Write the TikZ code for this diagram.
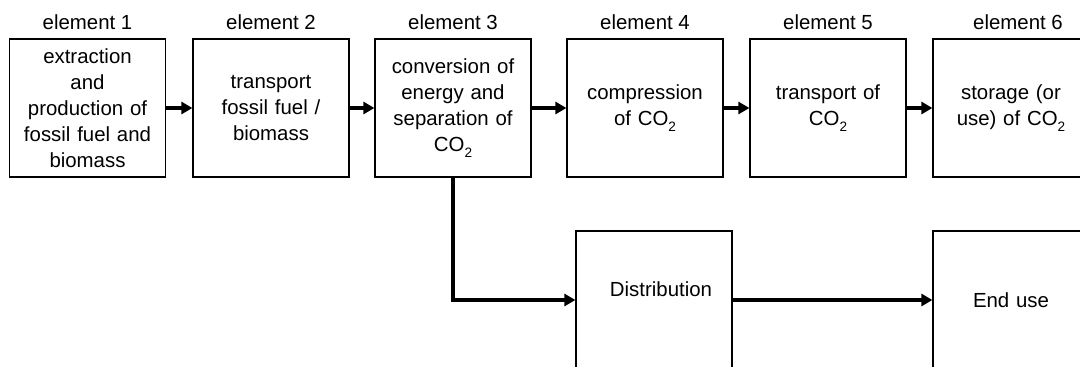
\documentclass[tikz,border=0pt]{standalone}
\usepackage{fontspec}
\setmainfont{Liberation Sans}
\usetikzlibrary{arrows.meta}
\newcommand{\cotwo}{CO\raisebox{-6pt}{\fontsize{13.6}{13.6}\selectfont 2}}
\begin{document}
\begin{tikzpicture}[x=1pt,y=-1pt,
  every node/.style={font=\fontsize{20.4}{26}\selectfont},
  stage/.style={draw=black,line width=1.2pt,minimum width=156pt,minimum height=138pt,
    inner sep=0pt,align=center,text width=150pt},
  head/.style={anchor=base,inner sep=0pt},
  flow/.style={line width=4pt,-{Triangle[length=11pt,width=12pt]}}]
\useasboundingbox (0,0) rectangle (1080,367);
\clip (0,0) rectangle (1080,367);
% upper chain of stages
\node[stage] (b1) at (87.5,108) {extraction\\and\\production of\\fossil fuel and\\biomass};
\node[stage] (b2) at (271,108) {transport\\fossil fuel /\\biomass};
\node[stage] (b3) at (453,108) {conversion of\\energy and\\separation of\\\cotwo};
\node[stage] (b4) at (645,108) {compression\\of \cotwo};
\node[stage] (b5) at (828,108) {transport of\\\cotwo};
\node[stage] (b6) at (1011,108) {storage (or\\use) of \cotwo};
% element headings
\node[head] (h1) at (87.5,29) {element 1};
\node[head] (h2) at (271,29) {element 2};
\node[head] (h3) at (453,29) {element 3};
\node[head] (h4) at (645,29) {element 4};
\node[head] (h5) at (828,29) {element 5};
\node[head] (h6) at (1018,29) {element 6};
% lower branch
\node[stage] (dist) at (654,300) {};
\node[inner sep=0pt] (distT) at (661,289) {Distribution};
\node[stage] (end) at (1011,300) {End use};
% connectors
\draw[flow] (b1) -- (b2);
\draw[flow] (b2) -- (b3);
\draw[flow] (b3) -- (b4);
\draw[flow] (b4) -- (b5);
\draw[flow] (b5) -- (b6);
\draw[flow] (b3.south) |- (dist.west);
\draw[flow] (dist) -- (end);
\end{tikzpicture}
\end{document}
